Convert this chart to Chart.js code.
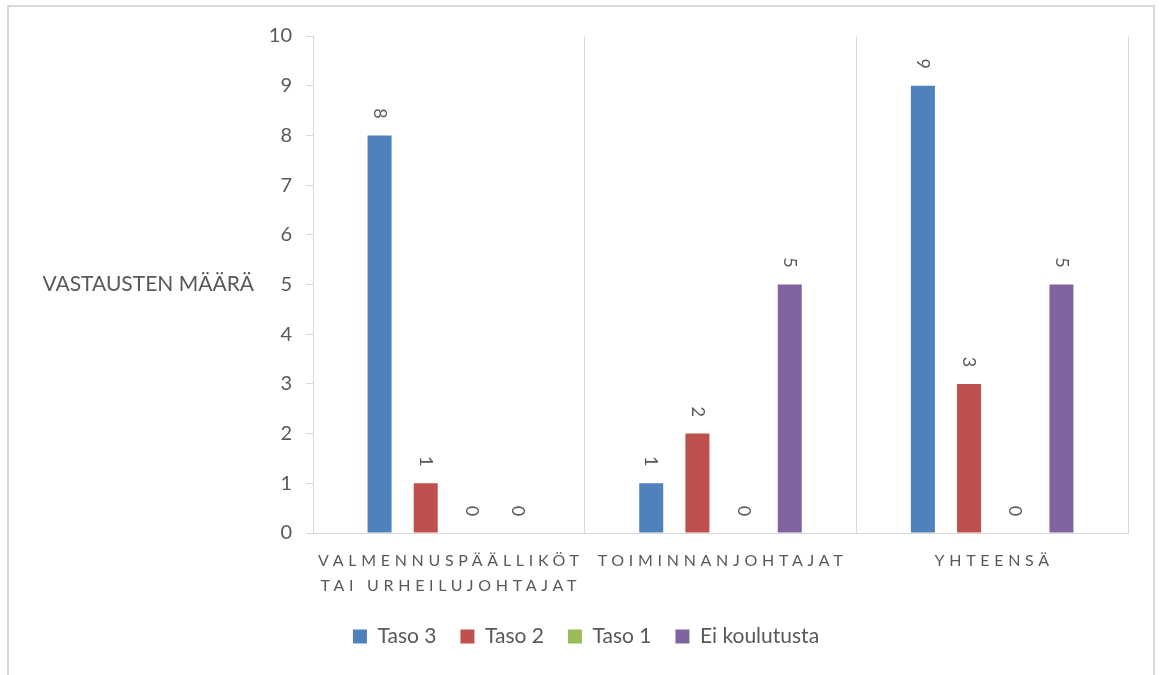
<!DOCTYPE html>
<html lang="fi">
<head>
<meta charset="UTF-8">
<title>Vastausten määrä</title>
<script src="https://cdn.jsdelivr.net/npm/chart.js"></script>
<style>
  html, body { margin: 0; padding: 0; background: #fff; overflow: hidden; }
  #wrap { position: relative; width: 1163px; height: 675px; }
  #kehys { position: absolute; left: 7px; top: 5px; width: 1148px; height: 720px; border: 2px solid #d9d9d9; box-sizing: border-box; }
  #kaavio { position: absolute; left: 0; top: 0; }
</style>
</head>
<body>
<div id="wrap">
  <div id="kehys"></div>
  <canvas id="kaavio" width="1163" height="675"></canvas>
</div>
<script>
  // ryhmät (x-akseli), rivitettynä kuten akselilla
  const ryhmat = [['VALMENNUSPÄÄLLIKÖT', 'TAI URHEILUJOHTAJAT'], ['TOIMINNANJOHTAJAT'], ['YHTEENSÄ']];
  const sarjat = ['Taso 3', 'Taso 2', 'Taso 1', 'Ei koulutusta'];
  const taso3 = [8, 1, 9];
  const taso2 = [1, 2, 3];
  const taso1 = [0, 0, 0];
  const eiKoulutusta = [0, 5, 5];
  const yAkseliMax = 10;
  const yOtsikko = 'VASTAUSTEN MÄÄRÄ';

  const varit = ['#4f81bd', '#c0504d', '#9bbb59', '#8064a2'];
  const harmaa = '#595959';
  const viiva = '#d9d9d9';
  const fontti = 'Lato, "Open Sans", sans-serif';

  // arvot pylväiden päälle, ryhmien nimet ja y-akselin otsikko
  const tekstit = {
    id: 'tekstit',
    afterDatasetsDraw(chart) {
      const ctx = chart.ctx;
      ctx.save();
      ctx.fillStyle = harmaa;
      ctx.textAlign = 'center';
      ctx.textBaseline = 'middle';
      ctx.font = '18px ' + fontti;
      chart.data.datasets.forEach((ds, i) => {
        chart.getDatasetMeta(i).data.forEach((bar, j) => {
          ctx.save();
          ctx.translate(bar.x, bar.y - 22);
          ctx.rotate(Math.PI / 2);
          ctx.fillText(String(ds.data[j]), 0, 0);
          ctx.restore();
        });
      });

      const x = chart.scales.x;
      ctx.font = '16px ' + fontti;
      ctx.letterSpacing = '4.7px';
      ryhmat.forEach((rivit, j) => {
        const cx = x.getPixelForValue(j) + 2;
        rivit.forEach((rivi, k) => {
          ctx.fillText(rivi, cx, x.top + 28 + k * 25);
        });
      });

      ctx.letterSpacing = '0px';
      ctx.font = '21px ' + fontti;
      ctx.textAlign = 'right';
      ctx.fillText(yOtsikko, 254, chart.scales.y.getPixelForValue(5));
      ctx.restore();
    }
  };

  const ctx = document.getElementById('kaavio').getContext('2d');
  new Chart(ctx, {
    type: 'bar',
    data: {
      labels: ryhmat,
      datasets: [taso3, taso2, taso1, eiKoulutusta].map((arvot, i) => ({
        label: sarjat[i],
        data: arvot,
        backgroundColor: varit[i],
        borderWidth: 0,
        categoryPercentage: 0.68,
        barPercentage: 0.52
      }))
    },
    options: {
      responsive: false,
      animation: false,
      layout: { padding: { top: 36, right: 35, left: 44, bottom: 18 } },
      plugins: {
        tooltip: { enabled: false },
        legend: {
          position: 'bottom',
          labels: {
            boxWidth: 14,
            boxHeight: 14,
            padding: 24,
            color: harmaa,
            font: { family: fontti, size: 21 }
          }
        }
      },
      scales: {
        x: {
          grid: { offset: true, drawTicks: false, color: viiva, lineWidth: 1 },
          border: { color: viiva, width: 1 },
          ticks: { display: false },
          afterFit: s => { s.height = 69; }
        },
        y: {
          min: 0,
          max: yAkseliMax,
          ticks: { stepSize: 1, color: harmaa, padding: 14, font: { family: fontti, size: 20 } },
          grid: { drawOnChartArea: false, tickLength: 7, color: viiva },
          border: { color: viiva, width: 1 },
          afterFit: s => { s.width = 269; }
        }
      }
    },
    plugins: [tekstit]
  });
</script>
</body>
</html>
